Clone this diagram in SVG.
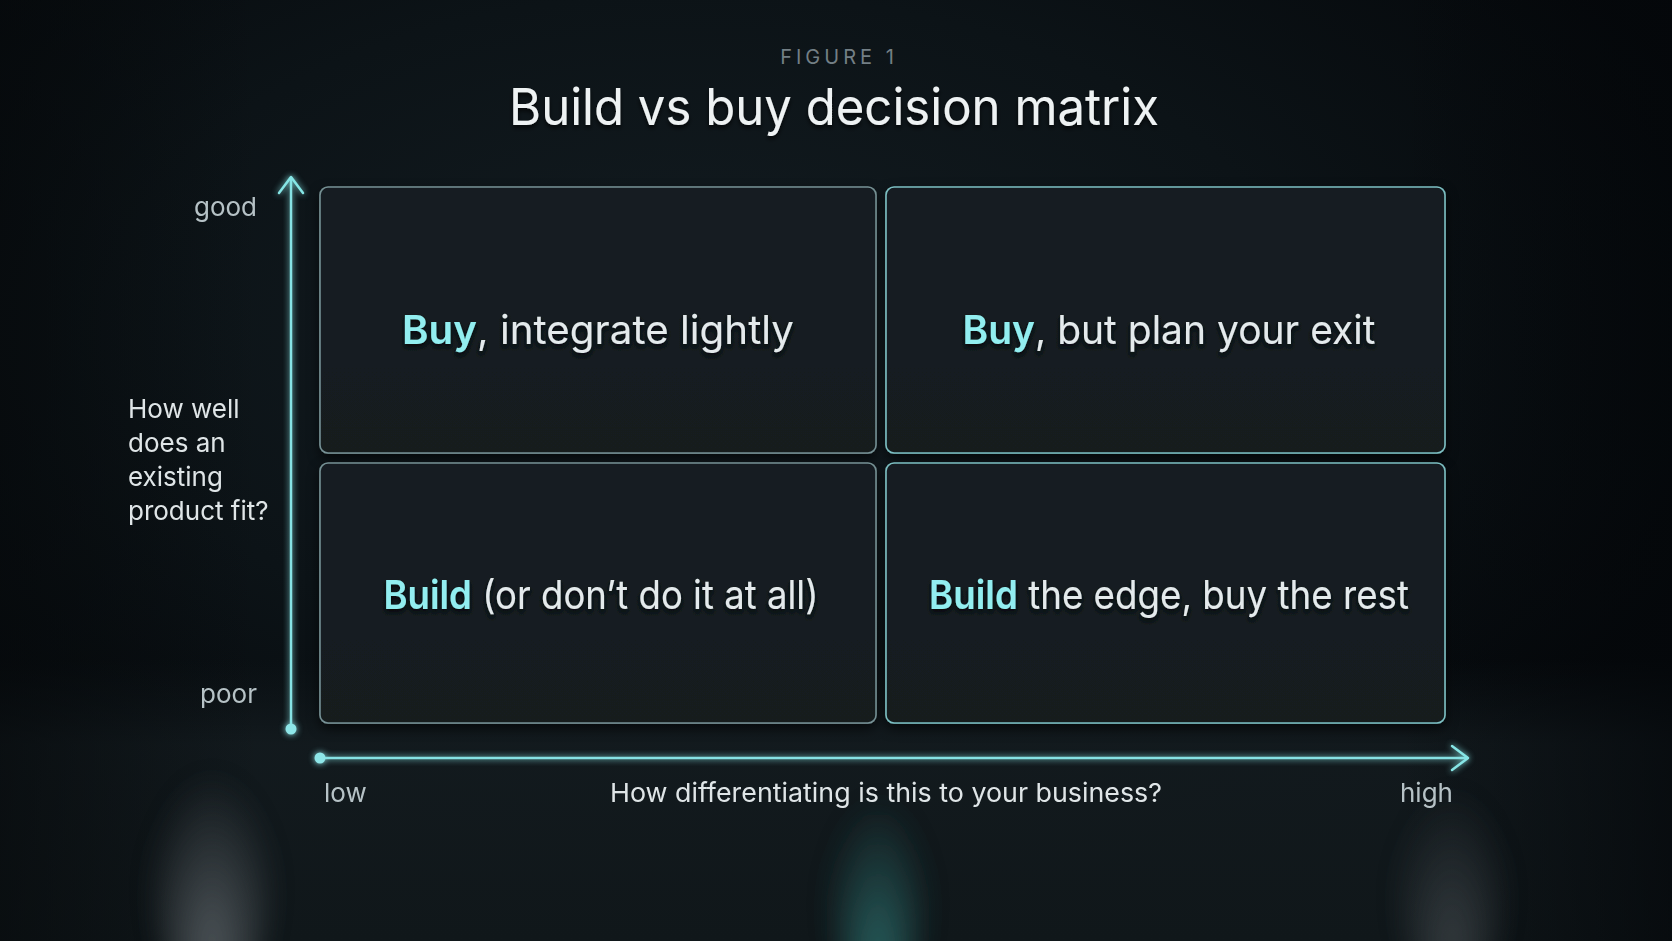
<svg xmlns="http://www.w3.org/2000/svg" width="1672" height="941" viewBox="0 0 1672 941">
  <defs>
    <radialGradient id="bgTop" cx="0.42" cy="0.35" r="0.65">
      <stop offset="0" stop-color="#131c21"/>
      <stop offset="0.55" stop-color="#0c1317"/>
      <stop offset="1" stop-color="#05080b"/>
    </radialGradient>
    <linearGradient id="floor" x1="0" y1="0" x2="0" y2="1">
      <stop offset="0" stop-color="#131b1f" stop-opacity="0"/>
      <stop offset="0.3" stop-color="#141c20" stop-opacity="0.85"/>
      <stop offset="1" stop-color="#10171a" stop-opacity="1"/>
    </linearGradient>
    <linearGradient id="sideL" x1="0" y1="0" x2="1" y2="0">
      <stop offset="0" stop-color="#05080a" stop-opacity="0.6"/>
      <stop offset="1" stop-color="#05080a" stop-opacity="0"/>
    </linearGradient>
    <linearGradient id="sideR" x1="1" y1="0" x2="0" y2="0">
      <stop offset="0" stop-color="#04070a" stop-opacity="0.7"/>
      <stop offset="1" stop-color="#04070a" stop-opacity="0"/>
    </linearGradient>
    <radialGradient id="spotGray" cx="0.5" cy="0.75" r="0.6">
      <stop offset="0" stop-color="#676e73" stop-opacity="0.7"/>
      <stop offset="1" stop-color="#676e73" stop-opacity="0"/>
    </radialGradient>
    <radialGradient id="spotTeal" cx="0.5" cy="0.75" r="0.6">
      <stop offset="0" stop-color="#2c6e6c" stop-opacity="0.8"/>
      <stop offset="1" stop-color="#2c6e6c" stop-opacity="0"/>
    </radialGradient>
    <linearGradient id="boxFill" x1="0" y1="0" x2="0" y2="1">
      <stop offset="0" stop-color="#141d22"/>
      <stop offset="1" stop-color="#121a1f"/>
    </linearGradient>
    <filter id="glow" filterUnits="userSpaceOnUse" x="0" y="0" width="1672" height="941">
      <feGaussianBlur in="SourceGraphic" stdDeviation="3" result="b"/>
      <feMerge><feMergeNode in="b"/><feMergeNode in="SourceGraphic"/></feMerge>
    </filter>
    <filter id="boxGlow" x="-10%" y="-10%" width="120%" height="125%">
      <feGaussianBlur in="SourceAlpha" stdDeviation="6" result="s"/>
      <feOffset dy="5" in="s" result="so"/>
      <feFlood flood-color="#000" flood-opacity="0.6"/>
      <feComposite in2="so" operator="in" result="sh"/>
      <feMerge><feMergeNode in="sh"/><feMergeNode in="SourceGraphic"/></feMerge>
    </filter>
    <filter id="tshadow" x="-10%" y="-30%" width="120%" height="160%">
      <feGaussianBlur in="SourceAlpha" stdDeviation="2" result="s"/>
      <feOffset dy="3" in="s" result="so"/>
      <feFlood flood-color="#000" flood-opacity="0.7"/>
      <feComposite in2="so" operator="in" result="sh"/>
      <feMerge><feMergeNode in="sh"/><feMergeNode in="SourceGraphic"/></feMerge>
    </filter>
    <filter id="soft" x="-50%" y="-50%" width="200%" height="200%">
      <feGaussianBlur stdDeviation="12"/>
    </filter>
    <marker id="arrow" markerUnits="userSpaceOnUse" markerWidth="40" markerHeight="40" viewBox="-20 -20 40 40" refX="0" refY="0" orient="auto" overflow="visible">
      <path d="M-16,-12 L0,0 L-16,12" fill="none" stroke="#86e6e6" stroke-width="2.5" stroke-linecap="round" stroke-linejoin="round"/>
    </marker>
    <marker id="dot" markerUnits="userSpaceOnUse" markerWidth="20" markerHeight="20" viewBox="-10 -10 20 20" refX="0" refY="0" overflow="visible">
      <circle r="5.5" fill="#8ee6e8"/>
    </marker>
  </defs>
  <style>
    .t { font-family: Inter, "Open Sans", "Liberation Sans", sans-serif; }
    .box { fill: url(#boxFill); stroke: #9fc2c4; stroke-opacity: 0.7; stroke-width: 1.6; }
    .boxT { stroke: #8fdcde; stroke-opacity: 0.85; }
    .q { font-size: 40px; fill: #e4eaec; }
    .k { font-weight: 600; fill: #92eef0; }
    .lab { font-size: 26px; fill: #b6c2c6; }
    .axis { stroke: #86e2e4; stroke-width: 2.5; fill: none; }
  </style>

  <rect width="1672" height="941" fill="url(#bgTop)"/>
  <rect x="0" y="660" width="1672" height="281" fill="url(#floor)"/>
  <rect x="0" y="0" width="260" height="941" fill="url(#sideL)"/>
  <rect x="1400" y="0" width="272" height="941" fill="url(#sideR)"/>
  <g filter="url(#soft)">
    <ellipse cx="212" cy="870" rx="60" ry="140" fill="url(#spotGray)"/>
    <ellipse cx="878" cy="885" rx="48" ry="125" fill="url(#spotTeal)"/>
    <ellipse cx="1452" cy="875" rx="55" ry="125" fill="url(#spotGray)" opacity="0.6"/>
  </g>

  <g id="header" class="t" text-anchor="middle">
    <text x="839" y="64" font-size="20" letter-spacing="4" fill="#737f85">FIGURE 1</text>
    <text x="834" y="125" font-size="51" fill="#eef2f3" filter="url(#tshadow)" textLength="650" lengthAdjust="spacingAndGlyphs">Build vs buy decision matrix</text>
  </g>

  <g id="connectors">
    <line id="y-axis" class="axis" x1="291" y1="729" x2="291" y2="177" marker-start="url(#dot)" marker-end="url(#arrow)" filter="url(#glow)"/>
    <line id="x-axis" class="axis" x1="320" y1="758" x2="1468" y2="758" marker-start="url(#dot)" marker-end="url(#arrow)" filter="url(#glow)"/>
  </g>

  <g id="node-buy-integrate" filter="url(#boxGlow)">
    <rect class="box" x="320" y="187" width="556" height="266" rx="8"/>
    <text class="t q" x="598" y="344" text-anchor="middle" filter="url(#tshadow)" textLength="392" lengthAdjust="spacingAndGlyphs"><tspan class="k">Buy</tspan>, integrate lightly</text>
  </g>
  <g id="node-buy-exit" filter="url(#boxGlow)">
    <rect class="box boxT" x="886" y="187" width="559" height="266" rx="8"/>
    <text class="t q" x="1169" y="344" text-anchor="middle" filter="url(#tshadow)" textLength="413" lengthAdjust="spacingAndGlyphs"><tspan class="k">Buy</tspan>, but plan your exit</text>
  </g>
  <g id="node-build-not" filter="url(#boxGlow)">
    <rect class="box" x="320" y="463" width="556" height="260" rx="8"/>
    <text class="t q" x="601" y="609" text-anchor="middle" filter="url(#tshadow)" textLength="435" lengthAdjust="spacingAndGlyphs"><tspan class="k">Build</tspan> (or don’t do it at all)</text>
  </g>
  <g id="node-build-edge" filter="url(#boxGlow)">
    <rect class="box boxT" x="886" y="463" width="559" height="260" rx="8"/>
    <text class="t q" x="1169" y="609" text-anchor="middle" filter="url(#tshadow)" textLength="480" lengthAdjust="spacingAndGlyphs"><tspan class="k">Build</tspan> the edge, buy the rest</text>
  </g>

  <g id="axis-labels" class="t lab">
    <text x="257" y="216" text-anchor="end">good</text>
    <text x="257" y="703" text-anchor="end">poor</text>
    <text x="128" y="418" fill="#dfe5e7">How well</text>
    <text x="128" y="452" fill="#dfe5e7">does an</text>
    <text x="128" y="486" fill="#dfe5e7">existing</text>
    <text x="128" y="520" fill="#dfe5e7">product fit?</text>
    <text x="324" y="802">low</text>
    <text x="886" y="802" text-anchor="middle" fill="#dfe5e7" textLength="552" lengthAdjust="spacingAndGlyphs">How differentiating is this to your business?</text>
    <text x="1453" y="802" text-anchor="end">high</text>
  </g>
</svg>
